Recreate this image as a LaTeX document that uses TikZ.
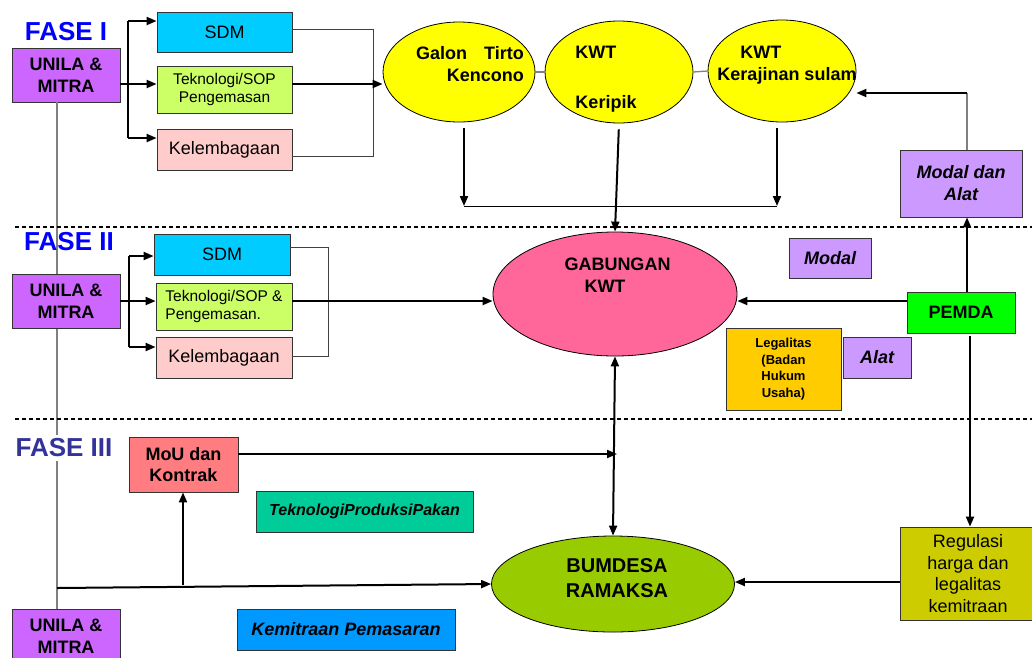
\documentclass[tikz,border=0pt]{standalone}
\usepackage{fontspec}
\setmainfont{Liberation Sans}
\usetikzlibrary{arrows.meta,shapes.geometric}
\definecolor{unila}{HTML}{CC66FF}
\definecolor{sdm}{HTML}{00CCFF}
\definecolor{tekno}{HTML}{CCFF66}
\definecolor{lembaga}{HTML}{FFCCCC}
\definecolor{kwt}{HTML}{FFFF00}
\definecolor{gabungan}{HTML}{FF6699}
\definecolor{modal}{HTML}{CC99FF}
\definecolor{pemda}{HTML}{00FF00}
\definecolor{legal}{HTML}{FFCC00}
\definecolor{mou}{HTML}{FF7C80}
\definecolor{pakan}{HTML}{00CC99}
\definecolor{mitra}{HTML}{0099FF}
\definecolor{regulasi}{HTML}{CCCC00}
\definecolor{bumdes}{HTML}{99CC00}
\definecolor{faseblue}{HTML}{0000FF}
\definecolor{faseviolet}{HTML}{333399}
\begin{document}
\begin{tikzpicture}[x=1pt, y=-1pt,
	box/.style={draw=black!80, line width=0.8pt, inner sep=0pt, align=center},
	oval/.style={draw=black, ellipse, line width=0.8pt, inner sep=0pt},
	arr/.style={black, line width=2pt, -{Triangle[length=10pt,width=8pt]}},
	arrs/.style={black, line width=2pt, {Triangle[length=10pt,width=8pt]}-{Triangle[length=10pt,width=8pt]}},
	thinline/.style={black!75, line width=1pt},
	greyline/.style={black!50, line width=1.3pt},
	sep/.style={black, line width=1.2pt, dash pattern=on 4pt off 3pt},
	fase/.style={font=\fontsize{26}{30}\selectfont\bfseries, inner sep=0pt},
	boldtext/.style={font=\fontsize{18}{22}\selectfont\bfseries},
	plaintext/.style={font=\fontsize{18}{22}\selectfont},
	italtext/.style={font=\fontsize{18}{22}\selectfont\bfseries\itshape},
	smalltext/.style={font=\fontsize{15.5}{18}\selectfont}]
	\clip (0, 0) rectangle (1032, 657);

	\coordinate (gv) at (57, 588);
	\node [box, fill=unila, boldtext, minimum width=108pt, minimum height=54pt] at (66, 75) (unila1) {UNILA \&\\MITRA};
	\node [box, fill=unila, boldtext, minimum width=108pt, minimum height=54pt] at (66, 636) (unila3) {UNILA \&\\MITRA};
	\draw [greyline] (unila1.south -| gv) -- (unila3.north -| gv);
	\node [box, fill=unila, boldtext, minimum width=108pt, minimum height=54pt] at (66, 301) (unila2) {UNILA \&\\MITRA};

	\node [fase, text=faseblue] at (66, 32) (fase1) {FASE I};
	\node [fase, text=faseblue] at (69, 242) (fase2) {FASE II};
	\node [fase, text=faseviolet, fill=white, inner ysep=4pt] at (64, 448) (fase3) {FASE III};

	\coordinate (s1a) at (15, 227);
	\coordinate (s1b) at (1032, 227);
	\coordinate (s2a) at (15, 419);
	\coordinate (s2b) at (1032, 419);
	\draw [sep] (s1a) -- (s1b);
	\draw [sep] (s2a) -- (s2b);

	\node [box, fill=sdm, plaintext, minimum width=135pt, minimum height=40pt] at (224.5, 32) (sdm1) {SDM};
	\node [box, fill=tekno, smalltext, minimum width=135pt, minimum height=47pt] at (224.5, 89.5) (tek1) {Teknologi/SOP\\Pengemasan};
	\node [box, fill=lembaga, plaintext, minimum width=135pt, minimum height=41pt] at (224.5, 149.5) (kel1) {Kelembagaan};
	\node [box, fill=sdm, plaintext, minimum width=136pt, minimum height=41pt] at (222, 254.5) (sdm2) {SDM};
	\node [box, fill=tekno, smalltext, align=left, minimum width=136pt, minimum height=47pt] at (224, 306.5) (tek2) {Teknologi/SOP \&\\Pengemasan.};
	\node [box, fill=lembaga, plaintext, minimum width=136pt, minimum height=41pt] at (224, 357.5) (kel2) {Kelembagaan};

	\node [oval, fill=kwt, minimum width=152pt, minimum height=100pt] at (459, 72) (galon) {};
	\node [oval, fill=kwt, minimum width=148pt, minimum height=102pt] at (619, 72) (keripik) {};
	\node [oval, fill=kwt, minimum width=148pt, minimum height=102pt] at (782, 71) (sulam) {};
	\node [boldtext, align=right, inner sep=0pt] at (470, 64) (galonT) {Galon\hspace{12pt} Tirto\\Kencono};
	\node [boldtext, align=left, inner sep=0pt] at (606, 79) (keripikT) {KWT\\[28pt]Keripik};
	\node [boldtext, align=left, inner sep=0pt] at (787, 65) (sulamT) {\hspace*{23pt}KWT\\Kerajinan sulam};

	\node [oval, fill=gabungan, minimum width=244pt, minimum height=124pt] at (615, 294) (gab) {};
	\node [boldtext, align=left, inner sep=0pt] at (617.5, 275) (gabT) {GABUNGAN\\\hspace*{20pt}KWT};
	\node [oval, fill=bumdes, minimum width=243pt, minimum height=96pt] at (613, 584) (bum) {};
	\node [font=\fontsize{20}{25}\selectfont\bfseries, align=center, inner sep=0pt] at (617, 578) (bumT) {BUMDESA\\RAMAKSA};

	\node [box, fill=modal, italtext, minimum width=122pt, minimum height=67pt] at (961, 183.5) (modalalat) {Modal dan\\Alat};
	\node [box, fill=modal, italtext, minimum width=82pt, minimum height=40pt] at (830, 258) (modalbox) {Modal};
	\node [box, fill=pemda, boldtext, minimum width=108pt, minimum height=41pt] at (961, 312.5) (pemda) {PEMDA};
	\node [box, fill=legal, font=\fontsize{13}{16.5}\selectfont\bfseries, minimum width=115pt, minimum height=82pt] at (783.5, 369) (legal) {Legalitas\\(Badan\\Hukum\\Usaha)};
	\node [box, fill=modal, italtext, minimum width=68pt, minimum height=41pt] at (877, 357.5) (alat) {Alat};
	\node [box, fill=mou, font=\fontsize{18}{21}\selectfont\bfseries, minimum width=109pt, minimum height=55pt] at (183.5, 464.5) (mou) {MoU dan\\Kontrak};
	\node [box, fill=pakan, font=\fontsize{16}{19}\selectfont\bfseries\itshape, minimum width=217pt, minimum height=41pt] at (364.5, 511.5) (pakanbox) {TeknologiProduksiPakan};
	\node [box, fill=mitra, italtext, minimum width=218pt, minimum height=41pt] at (346, 629.5) (kemitraan) {Kemitraan Pemasaran};
	\node [box, fill=regulasi, font=\fontsize{18}{21.7}\selectfont, minimum width=136pt, minimum height=93pt] at (968, 573.5) (regulasi) {Regulasi\\harga dan\\legalitas\\kemitraan};

	\coordinate (f1a) at (128, 21);
	\coordinate (f1b) at (128, 84);
	\coordinate (f1c) at (128, 138);
	\draw [black, line width=1.2pt] (f1a) -- (f1c);
	\draw [arr] (f1a) -- (f1a -| sdm1.west);
	\draw [arr] (unila1.east |- f1b) -- (f1b -| tek1.west);
	\draw [arr] (f1c) -- (f1c -| kel1.west);
	\coordinate (r1a) at (373, 29);
	\coordinate (r1b) at (373, 156);
	\draw [thinline] (sdm1.east |- r1a) -- (r1a) -- (r1b) -- (kel1.east |- r1b);
	\draw [arr] (tek1.east |- f1b) -- (galon.west |- f1b);

	\draw [greyline] (galon.east) -- (keripik.west);
	\draw [greyline] (keripik.east) -- (sulam.west);
	\coordinate (j1) at (464, 206);
	\coordinate (j3) at (777, 206);
	\draw [arr, shorten <=6pt] (galon.south -| j1) -- (j1);
	\draw [arr, shorten <=6pt] (sulam.south -| j3) -- (j3);
	\draw [black, line width=1pt] (j1) -- (j3);
	\draw [arr, shorten <=6pt] (keripik.south) -- (gab.north);

	\coordinate (f2a) at (129, 256);
	\coordinate (f2b) at (129, 301);
	\coordinate (f2c) at (129, 347);
	\draw [black, line width=1.2pt] (f2a) -- (f2c);
	\draw [arr] (f2a) -- (f2a -| sdm2.west);
	\draw [arr] (unila2.east |- f2b) -- (f2b -| tek2.west);
	\draw [arr] (f2c) -- (f2c -| kel2.west);
	\coordinate (r2a) at (328, 247);
	\coordinate (r2b) at (328, 356);
	\draw [thinline] (sdm2.east |- r2a) -- (r2a) -- (r2b) -- (kel2.east |- r2b);
	\draw [arr] (tek2.east |- f2b) -- (gab.west |- f2b);

	\coordinate (pa) at (967, 93);
	\coordinate (pb) at (970, 301);
	\coordinate (rb) at (900, 582);
	\draw [greyline] (modalalat.north -| pa) -- (pa);
	\draw [arr] (pa) -- (sulam.east |- pa);
	\draw [arr] (pemda.north -| pa) -- (modalalat.south -| pa);
	\draw [arr] (pemda.west |- pb) -- (gab.east |- pb);
	\draw [arr, shorten <=3pt] (pemda.south -| pb) -- (regulasi.north -| pb);
	\draw [arr] (regulasi.west |- rb) -- (bum.east |- rb);

	\draw [arrs] (gab.south) -- (bum.north);
	\coordinate (mo) at (617, 454);
	\draw [arr] (mou.east |- mo) -- (mo);
	\draw [arr] (gv) -- (bum.west);
	\coordinate (mu) at (183, 585);
	\draw [arr] (mu) -- (mou.south -| mu);
\end{tikzpicture}
\end{document}
